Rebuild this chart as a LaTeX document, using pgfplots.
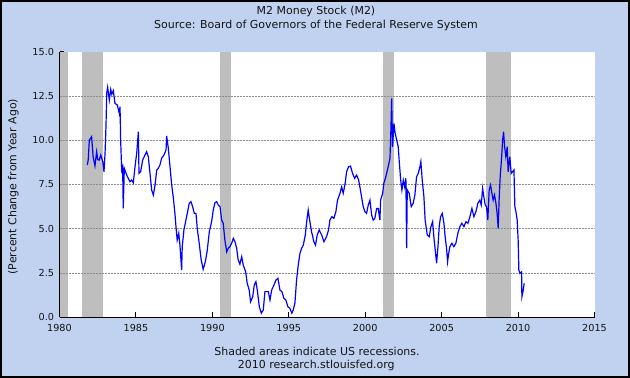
\documentclass[border=0pt]{standalone}
\usepackage{pgfplots}
\pgfplotsset{compat=1.18}
\usepackage{fontspec}
\setmainfont{DejaVu Sans}
\definecolor{bgblue}{RGB}{192,210,240}
\definecolor{recgray}{RGB}{190,190,190}
\definecolor{gridgray}{RGB}{140,140,140}
\definecolor{txt}{RGB}{20,20,20}
\begin{document}
\begin{tikzpicture}
\useasboundingbox (0bp,0bp) rectangle (630bp,378bp);
\fill[bgblue] (0bp,0bp) rectangle (630bp,378bp);
\draw[line width=2bp, black] (1bp,1bp) rectangle (629bp,377bp);
\begin{axis}[
  at={(59.5bp,60.7bp)}, anchor=south west,
  scale only axis, width=535bp, height=265.6bp,
  xmin=1980, xmax=2015, ymin=0, ymax=15,
  axis background/.style={fill=white},
  axis x line*=bottom, axis y line*=left,
  axis line style={-, line width=1.5bp, black},
  xtick={1980,1985,...,2015},
  ytick={0,2.5,...,15},
  tick align=inside, major tick length=5bp,
  tick style={black, line width=1bp},
  /pgf/number format/assume math mode=true,
  x tick label style={font=\fontsize{9.7}{11}\selectfont, text=txt, /pgf/number format/1000 sep={}, yshift=-4bp},
  y tick label style={font=\fontsize{9.7}{11}\selectfont, text=txt, /pgf/number format/fixed, /pgf/number format/fixed zerofill, /pgf/number format/precision=1, xshift=-2bp},
]
% recession bands
\addplot[draw=none, fill=recgray] coordinates {(1980.0,0) (1980.0,15) (1980.55,15) (1980.55,0)} -- cycle;
\addplot[draw=none, fill=recgray] coordinates {(1981.49,0) (1981.49,15) (1982.83,15) (1982.83,0)} -- cycle;
\addplot[draw=none, fill=recgray] coordinates {(1990.52,0) (1990.52,15) (1991.2,15) (1991.2,0)} -- cycle;
\addplot[draw=none, fill=recgray] coordinates {(2001.16,0) (2001.16,15) (2001.88,15) (2001.88,0)} -- cycle;
\addplot[draw=none, fill=recgray] coordinates {(2007.91,0) (2007.91,15) (2009.55,15) (2009.55,0)} -- cycle;
% grid lines
\addplot[gridgray, line width=0.8bp, dash pattern=on 2bp off 1bp] coordinates {(1980,2.5) (2015,2.5)};
\addplot[gridgray, line width=0.8bp, dash pattern=on 2bp off 1bp] coordinates {(1980,5) (2015,5)};
\addplot[gridgray, line width=0.8bp, dash pattern=on 2bp off 1bp] coordinates {(1980,7.5) (2015,7.5)};
\addplot[gridgray, line width=0.8bp, dash pattern=on 2bp off 1bp] coordinates {(1980,10) (2015,10)};
\addplot[gridgray, line width=0.8bp, dash pattern=on 2bp off 1bp] coordinates {(1980,12.5) (2015,12.5)};
% M2 growth
\addplot[blue, line width=1.2bp, mark=none] table {
x y
1981.82 8.6
1981.88 8.9
1981.95 10.0
1982.1 10.2
1982.2 9.07
1982.32 8.55
1982.43 9.35
1982.5 8.9
1982.6 8.88
1982.7 9.16
1982.83 8.79
1982.91 8.22
1982.98 9.26
1983.04 10.76
1983.09 12.65
1983.15 12.99
1983.26 12.27
1983.35 12.87
1983.42 12.6
1983.52 12.8
1983.63 12.08
1983.78 11.99
1983.91 11.52
1983.96 11.9
1984.0 10.0
1984.07 8.32
1984.13 8.5
1984.17 6.15
1984.24 8.41
1984.4 8.03
1984.5 7.85
1984.61 7.66
1984.72 7.75
1984.83 7.6
1984.94 8.5
1985.05 9.26
1985.16 10.48
1985.2 8.13
1985.31 8.22
1985.44 8.88
1985.59 9.16
1985.7 9.35
1985.81 9.07
1985.92 8.13
1986.03 7.19
1986.14 6.9
1986.25 7.47
1986.36 8.32
1986.46 8.41
1986.57 8.6
1986.68 8.98
1986.83 9.16
1986.97 9.45
1987.01 10.24
1987.12 9.54
1987.23 8.5
1987.34 7.47
1987.44 6.81
1987.55 5.87
1987.62 5.12
1987.7 4.36
1987.8 4.74
1987.88 4.08
1987.99 2.67
1988.03 3.99
1988.14 4.93
1988.27 5.49
1988.38 5.96
1988.49 6.44
1988.6 6.53
1988.71 6.25
1988.82 5.87
1988.93 5.87
1989.01 5.03
1989.14 4.18
1989.27 3.24
1989.4 2.71
1989.54 3.14
1989.67 3.8
1989.8 4.83
1989.95 5.4
1990.06 6.06
1990.17 6.47
1990.28 6.53
1990.39 6.34
1990.5 6.25
1990.61 5.49
1990.71 5.31
1990.82 4.36
1990.94 3.7
1991.04 3.9
1991.15 3.99
1991.26 4.18
1991.37 4.46
1991.48 4.27
1991.59 3.9
1991.69 3.24
1991.8 3.0
1991.92 3.42
1992.02 2.95
1992.18 2.57
1992.28 1.92
1992.41 1.54
1992.5 0.88
1992.64 1.16
1992.74 1.82
1992.85 2.01
1992.94 1.54
1993.07 0.6
1993.2 0.23
1993.33 0.41
1993.44 1.45
1993.55 1.45
1993.66 1.45
1993.77 0.98
1993.88 1.54
1994.03 1.82
1994.16 2.11
1994.29 2.2
1994.42 1.54
1994.55 1.45
1994.68 1.07
1994.81 0.98
1994.94 0.6
1995.07 0.51
1995.2 0.23
1995.29 0.41
1995.4 0.79
1995.51 2.11
1995.62 2.95
1995.73 3.61
1995.84 3.9
1995.95 4.08
1996.08 4.65
1996.17 5.4
1996.27 6.06
1996.38 5.4
1996.49 4.83
1996.64 4.27
1996.75 4.08
1996.86 4.65
1996.99 4.93
1997.15 4.65
1997.3 4.27
1997.47 4.55
1997.6 4.93
1997.69 5.49
1997.82 5.68
1997.95 5.59
1998.08 5.96
1998.19 6.62
1998.35 7.0
1998.46 7.37
1998.56 7.0
1998.69 7.57
1998.78 8.22
1998.91 8.5
1999.04 8.54
1999.17 8.13
1999.31 7.85
1999.44 8.03
1999.57 7.75
1999.65 7.37
1999.76 6.81
1999.87 6.25
1999.98 5.96
2000.09 5.87
2000.2 6.34
2000.31 6.62
2000.42 5.78
2000.52 5.49
2000.63 5.59
2000.75 6.15
2000.85 6.15
2000.96 5.49
2001.01 6.62
2001.14 7.0
2001.22 7.57
2001.35 7.94
2001.5 8.5
2001.62 8.98
2001.68 10.58
2001.73 12.37
2001.79 9.63
2001.88 10.95
2001.96 10.39
2002.06 10.01
2002.16 9.63
2002.22 8.88
2002.32 7.75
2002.4 7.19
2002.49 7.75
2002.58 7.37
2002.66 7.85
2002.71 3.9
2002.75 7.19
2002.88 7.0
2003.01 6.25
2003.14 6.44
2003.25 6.91
2003.36 7.94
2003.47 8.13
2003.58 8.5
2003.64 8.79
2003.73 7.75
2003.84 6.81
2003.92 5.49
2004.06 4.65
2004.19 4.55
2004.3 5.12
2004.41 5.4
2004.49 4.55
2004.58 3.8
2004.67 3.05
2004.76 3.99
2004.84 5.12
2004.93 5.68
2005.04 5.87
2005.15 5.31
2005.23 4.55
2005.32 3.9
2005.39 3.14
2005.46 3.61
2005.54 3.99
2005.67 4.18
2005.8 3.99
2005.93 4.18
2006.06 4.74
2006.19 5.12
2006.32 5.31
2006.46 5.12
2006.59 5.4
2006.72 5.31
2006.85 5.68
2006.98 6.15
2007.11 5.68
2007.24 5.96
2007.37 6.44
2007.5 6.62
2007.59 6.34
2007.68 7.28
2007.76 6.81
2007.85 6.34
2007.94 6.25
2008.02 5.49
2008.11 7.19
2008.2 7.47
2008.29 7.0
2008.37 6.62
2008.46 6.91
2008.55 6.44
2008.63 5.87
2008.7 5.03
2008.76 6.62
2008.83 7.94
2008.92 8.98
2008.99 10.01
2009.05 10.48
2009.12 9.63
2009.2 9.07
2009.29 9.63
2009.35 8.22
2009.46 9.07
2009.55 8.13
2009.64 8.22
2009.73 8.32
2009.79 6.25
2009.86 5.96
2009.94 5.5
2010.01 4.27
2010.05 2.67
2010.12 2.48
2010.23 2.57
2010.25 1.16
2010.34 1.54
2010.4 1.92
};
\end{axis}
\node[text=txt, font=\fontsize{11}{13}\selectfont] at (316bp,366.3bp) {M2 Money Stock (M2)};
\node[text=txt, font=\fontsize{11}{13}\selectfont] at (316bp,353bp) {Source: Board of Governors of the Federal Reserve System};
\node[text=txt, font=\fontsize{11}{13}\selectfont, rotate=90] at (13.3bp,191.3bp) {(Percent Change from Year Ago)};
\node[text=txt, font=\fontsize{11}{13}\selectfont] at (317bp,26.3bp) {Shaded areas indicate US recessions.};
\node[text=txt, font=\fontsize{11}{13}\selectfont] at (316.3bp,13bp) {2010 research.stlouisfed.org};
\end{tikzpicture}
\end{document}
